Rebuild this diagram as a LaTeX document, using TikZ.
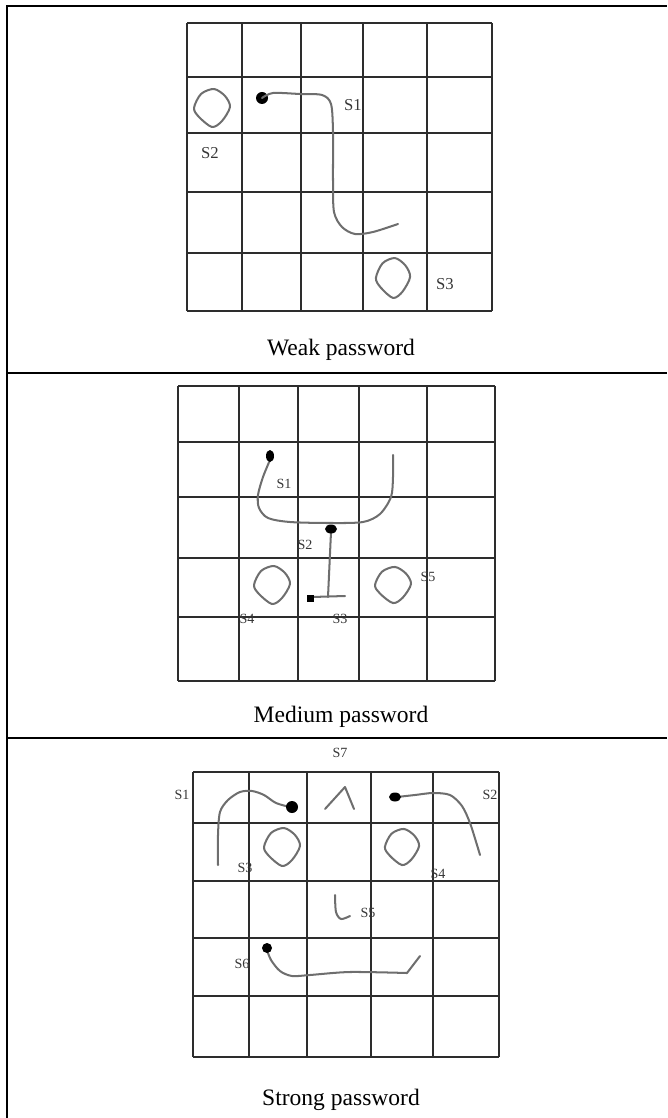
\documentclass[tikz,border=0pt]{standalone}
\usepackage{fontspec}
\setmainfont{Liberation Serif}
\usepackage{tikz}
\definecolor{gridgray}{RGB}{45,45,45}
\definecolor{pengray}{RGB}{110,110,110}
\definecolor{labelgray}{RGB}{55,55,55}
\tikzset{
  frameline/.style={line width=1.3pt, color=black},
  gridline/.style={line width=1.1pt, color=gridgray},
  pen/.style={line width=1.15pt, color=pengray, line cap=round, line join=round},
  dotmark/.style={fill=black, draw=none},
  slabel/.style={font=\fontsize{8}{9}\selectfont, color=labelgray, inner sep=0pt},
  biglabel/.style={slabel, font=\fontsize{9.5}{10}\selectfont},
  caption/.style={font=\fontsize{13.4}{16}\selectfont, inner sep=0pt},
  ringmark/.pic={
    \draw[pen] plot[smooth cycle] coordinates {(2,-19) (13,-12) (18,-1) (10,13) (0,19) (-13,9) (-18,0) (-11,-14)};
  }
}

\begin{document}
\begin{tikzpicture}[x=0.02cm, y=-0.02cm]
  \useasboundingbox (0,0) rectangle (667,1118);

  % Table frame
  \draw[frameline] (7,1118) -- (7,6) -- (667,6);
  \draw[frameline] (7,373) -- (667,373);
  \draw[frameline] (7,738) -- (667,738);

  % Weak password grid
  \foreach \x in {187,242,301,363,427,492} \draw[gridline] (\x,23) -- (\x,311);
  \foreach \y in {23,77,133,192,253,311} \draw[gridline] (187,\y) -- (492,\y);
  \pic at (212,108) {ringmark};
  \pic[xscale=0.95, yscale=1.05] at (393,278) {ringmark};
  \fill[dotmark] (262,98) circle[radius=6];
  \draw[pen] plot[smooth, tension=0.5] coordinates {(262,98) (273,93) (300,94) (322,95) (331,104) (333,132) (333,180) (334,212) (342,227) (355,234) (373,232) (398,224)};
  \node[biglabel] (w-s1) at (353,105) {S1};
  \node[biglabel] (w-s2) at (210,153) {S2};
  \node[biglabel] (w-s3) at (445,284) {S3};
  \node[caption] (weakcap) at (341,350) {Weak password};

  % Medium password grid
  \foreach \x in {178,239,298,359,427,495} \draw[gridline] (\x,386) -- (\x,681);
  \foreach \y in {386,442,497,558,617,681} \draw[gridline] (178,\y) -- (495,\y);
  \pic at (272,585) {ringmark};
  \pic[yscale=0.95] at (393,585) {ringmark};
  \draw[pen] plot[smooth, tension=0.5] coordinates {(270,460) (263,477) (258,495) (259,508) (268,518) (290,522) (330,523) (363,522) (380,514) (391,497) (393,477) (393,455)};
  \draw[pen] (331,532) -- (328,597);
  \draw[pen] (312,597) -- (345,596);
  \fill[dotmark] (270,456) ellipse[x radius=4, y radius=6];
  \fill[dotmark] (331,529) ellipse[x radius=6, y radius=4.5];
  \fill[dotmark] (307,595) rectangle (314,602);
  \node[slabel] (m-s1) at (284,484) {S1};
  \node[slabel] (m-s2) at (305,545) {S2};
  \node[slabel] (m-s3) at (340,619) {S3};
  \node[slabel] (m-s4) at (247,619) {S4};
  \node[slabel] (m-s5) at (428,577) {S5};
  \node[caption] (medcap) at (341,717) {Medium password};

  % Strong password grid
  \foreach \x in {193,249,307,371,433,499} \draw[gridline] (\x,772) -- (\x,1057);
  \foreach \y in {772,823,881,938,996,1057} \draw[gridline] (193,\y) -- (499,\y);
  \pic at (282,847) {ringmark};
  \pic[xscale=0.95, yscale=0.95] at (402,847) {ringmark};
  \draw[pen] plot[smooth, tension=0.5] coordinates {(218,865) (218,835) (220,812) (228,800) (240,792) (252,791) (264,795) (276,803) (290,807)};
  \draw[pen] (325,809) -- (345,787) -- (354,809);
  \draw[pen] plot[smooth, tension=0.5] coordinates {(397,797) (415,795) (433,793) (450,795) (462,806) (470,823) (477,845) (480,855)};
  \draw[pen] plot[smooth, tension=0.5] coordinates {(335,895) (336,912) (341,919) (350,916)};
  \draw[pen] plot[smooth, tension=0.5] coordinates {(267,950) (271,960) (280,971) (292,976) (310,975) (350,972) (407,973)} -- (420,956);
  \fill[dotmark] (292,807) circle[radius=6];
  \fill[dotmark] (395,797) ellipse[x radius=6, y radius=4.5];
  \fill[dotmark] (267,948) circle[radius=5];
  \node[slabel] (s-s7) at (340,753) {S7};
  \node[slabel] (s-s1) at (182,795) {S1};
  \node[slabel] (s-s2) at (490,795) {S2};
  \node[slabel] (s-s3) at (245,868) {S3};
  \node[slabel] (s-s4) at (438,874) {S4};
  \node[slabel] (s-s5) at (368,913) {S5};
  \node[slabel] (s-s6) at (242,964) {S6};
  \node[caption] (strongcap) at (341,1100) {Strong password};
\end{tikzpicture}
\end{document}
